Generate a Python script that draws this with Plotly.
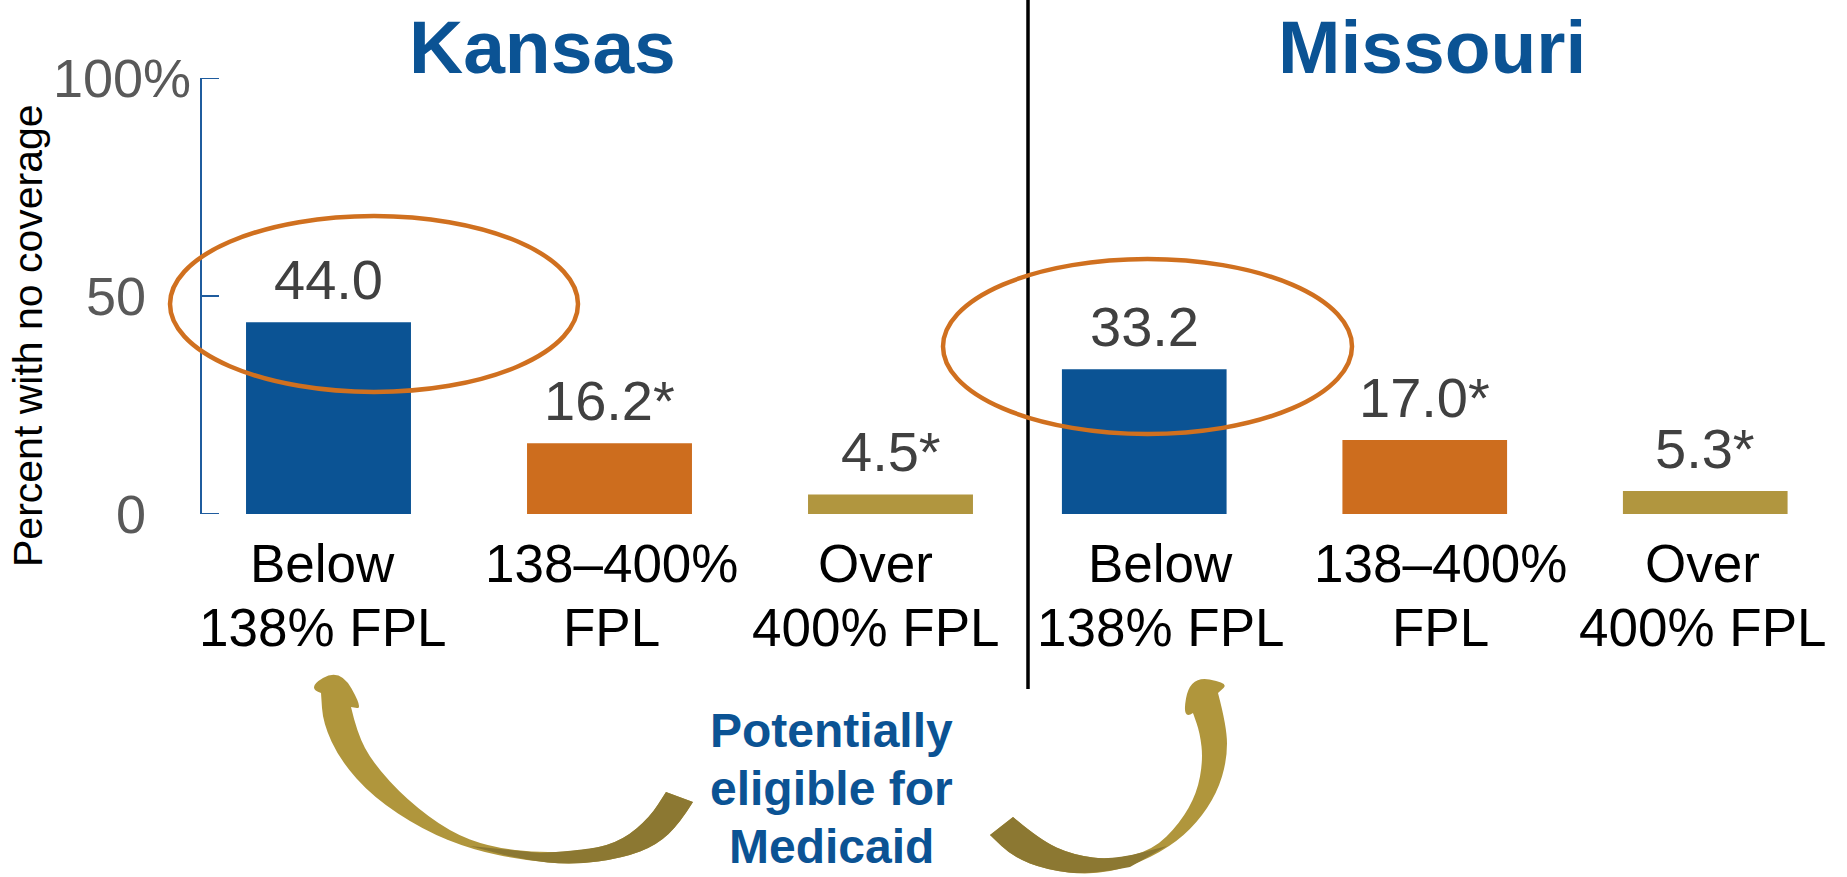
"""
Uninsured by income, Kansas vs Missouri
"""
import plotly.graph_objects as go

W, H = 1847, 877

# --- datos ---
states = ["Kansas", "Missouri"]
categories = ["Below<br>138% FPL", "138–400%<br>FPL", "Over<br>400% FPL"]
kansas = [44.0, 16.2, 4.5]
missouri = [33.2, 17.0, 5.3]
significant = [False, True, True]
y_ticks = [0, 50, 100]
y_ticktext = ["0", "50", "100%"]
note_lines = ["Potentially", "eligible for", "Medicaid"]

BLUE = "#0B5394"
ORANGE = "#CD6D1E"
GOLD = "#B1963F"
bar_colors = [BLUE, ORANGE, GOLD]
FONT = "Liberation Sans, Arial, Helvetica, sans-serif"

# plot area in pixels: y=0 at 514, y=100 at 78
TOP, BOTTOM = 78, 514
PH = BOTTOM - TOP

# desplazamientos horizontales de las etiquetas de categoria (px)
label_shift = {"x": [-6, 2, -15], "x2": [16, 16, -3]}


def px(x):
    return x / W


def py(y):
    return (BOTTOM - y) / PH


def path_str(points):
    """Smooth path (quadratic through midpoints) in paper coords"""
    pts = [(px(a), py(b)) for a, b in points]
    s = f"M {pts[0][0]:.5f},{pts[0][1]:.5f}"
    for i in range(1, len(pts) - 1):
        mx = (pts[i][0] + pts[i + 1][0]) / 2
        my = (pts[i][1] + pts[i + 1][1]) / 2
        s += f" Q {pts[i][0]:.5f},{pts[i][1]:.5f} {mx:.5f},{my:.5f}"
    s += f" L {pts[-1][0]:.5f},{pts[-1][1]:.5f}"
    return s


def arrow_path(head, edge_a, tail, edge_b):
    """head/tail: straight points, edges: smooth curves"""
    s = path_str(head)
    s += path_str(edge_a).replace("M", "L", 1)
    s += path_str(tail).replace("M", "L", 1)
    s += path_str(edge_b).replace("M", "L", 1)
    return s + " Z"


fig = go.Figure()

axes = ["x", "x2"]
for state, vals, ax in zip(states, [kansas, missouri], axes):
    fig.add_trace(go.Bar(
        x=categories, y=vals, name=state,
        marker=dict(color=bar_colors, line=dict(width=0)),
        xaxis=ax, yaxis="y", cliponaxis=False,
        hoverinfo="skip", showlegend=False,
    ))

annotations = []

# etiquetas de valor
for vals, ax in zip([kansas, missouri], axes):
    for cat, v, sig in zip(categories, vals, significant):
        annotations.append(dict(
            x=cat, y=v, xref=ax, yref="y", xanchor="center", yanchor="bottom",
            yshift=9, text=f"{v:.1f}" + ("*" if sig else ""), showarrow=False,
            font=dict(size=56, color="#404040", family=FONT),
        ))

# etiquetas de categoria (una anotacion por linea)
for ax in axes:
    for cat, dx in zip(categories, label_shift[ax]):
        for i, line in enumerate(cat.split("<br>")):
            annotations.append(dict(
                x=cat, y=py([563, 627][i]), xref=ax, yref="paper",
                xanchor="center", yanchor="middle", xshift=dx,
                text=line, showarrow=False,
                font=dict(size=53, color="#000000", family=FONT),
            ))

# etiquetas del eje y
for v, t in zip(y_ticks, y_ticktext):
    annotations.append(dict(
        x=px(193 if t.endswith("%") else 148), y=v, xref="paper", yref="y",
        xanchor="right", yanchor="middle", text=t, showarrow=False,
        font=dict(size=54, color="#595959", family=FONT),
    ))

annotations.append(dict(
    x=px(28), y=py(336), xref="paper", yref="paper", textangle=-90,
    xanchor="center", yanchor="middle",
    text="Percent with no coverage", showarrow=False,
    font=dict(size=41, color="#000000", family=FONT),
))

# titulos
for state, cx in zip(states, [542, 1432]):
    annotations.append(dict(
        x=px(cx), y=py(47), xref="paper", yref="paper",
        xanchor="center", yanchor="middle",
        text=f"<b>{state}</b>", showarrow=False,
        font=dict(size=75, color=BLUE, family=FONT),
    ))

for line, cy in zip(note_lines, [730, 788, 846]):
    annotations.append(dict(
        x=px(831), y=py(cy), xref="paper", yref="paper",
        xanchor="center", yanchor="middle",
        text=f"<b>{line}</b>", showarrow=False,
        font=dict(size=48, color=BLUE, family=FONT),
    ))

shapes = []

# eje y dibujado a mano (linea + marcas hacia dentro)
AXIS_C = "#1F5C9E"
shapes.append(dict(type="line", xref="paper", yref="y",
                   x0=px(201), x1=px(201), y0=0, y1=100,
                   line=dict(color=AXIS_C, width=2)))
for v in y_ticks:
    shapes.append(dict(type="line", xref="paper", yref="y",
                       x0=px(200), x1=px(219), y0=v, y1=v,
                       line=dict(color=AXIS_C, width=2)))

# linea divisoria
shapes.append(dict(type="line", xref="paper", yref="paper",
                   x0=px(1028), x1=px(1028), y0=py(0), y1=py(689),
                   line=dict(color="#000000", width=3.5)))

# elipses
for x0, x1, y0, y1 in [(170, 578, 216, 392), (943, 1352, 259, 434)]:
    shapes.append(dict(type="circle", xref="paper", yref="paper",
                       x0=px(x0), x1=px(x1), y0=py(y0), y1=py(y1),
                       line=dict(color="#D0701F", width=4.5)))

# flecha izquierda
left_light = arrow_path(
    [(321, 693), (306, 688), (340, 668), (363, 709), (351, 707)],
    [(351, 707), (357, 733), (373, 763), (407, 800), (450, 832), (490, 847),
     (540, 853), (590, 850), (623, 840), (650, 817), (666, 792)],
    [(666, 792), (693, 802)],
    [(693, 802), (680, 823), (657, 845), (623, 858), (573, 865), (523, 860),
     (473, 850), (423, 830), (373, 797), (340, 760), (323, 723), (321, 693)],
)
left_dark = arrow_path(
    [(470, 846), (540, 853)],
    [(540, 853), (590, 850), (623, 840), (650, 817), (666, 792)],
    [(666, 792), (693, 802)],
    [(693, 802), (680, 823), (657, 845), (623, 858), (573, 865), (523, 860),
     (470, 846)],
)
# flecha derecha
right_light = arrow_path(
    [(1193, 713), (1182, 721), (1190, 676), (1229, 683), (1218, 693)],
    [(1218, 693), (1227, 727), (1227, 760), (1217, 793), (1197, 823),
     (1170, 847), (1130, 867), (1090, 875), (1047, 870), (1013, 857), (990, 835)],
    [(990, 835), (1013, 817)],
    [(1013, 817), (1040, 840), (1073, 855), (1113, 860), (1153, 850),
     (1180, 823), (1197, 793), (1203, 760), (1200, 733), (1193, 713)],
)
right_dark = arrow_path(
    [(1167, 846), (1130, 867)],
    [(1130, 867), (1090, 875), (1047, 870), (1013, 857), (990, 835)],
    [(990, 835), (1013, 817)],
    [(1013, 817), (1040, 840), (1073, 855), (1113, 860), (1167, 846)],
)
for p, c in [(left_light, "#B0963C"), (left_dark, "#8C7832"),
             (right_light, "#B0963C"), (right_dark, "#8C7832")]:
    shapes.append(dict(type="path", xref="paper", yref="paper", path=p,
                       fillcolor=c, line=dict(width=0), layer="above"))

axis_common = dict(type="category", showticklabels=False, showline=False,
                   showgrid=False, zeroline=False, ticks="", anchor="y",
                   fixedrange=True)

fig.update_layout(
    width=W, height=H,
    margin=dict(l=0, r=0, t=TOP, b=H - BOTTOM, pad=0),
    paper_bgcolor="white", plot_bgcolor="white",
    bargap=0.413,
    xaxis=dict(domain=[px(188), px(1031)], **axis_common),
    xaxis2=dict(domain=[px(1004), px(1845.5)], **axis_common),
    yaxis=dict(range=[0, 100], showline=False, ticks="",
               showticklabels=False, showgrid=False,
               zeroline=False, fixedrange=True),
    annotations=annotations,
    shapes=shapes,
    font=dict(family=FONT),
)

fig.write_html("out.html", config={"displayModeBar": False},
               post_script="document.body.style.margin='0';")
